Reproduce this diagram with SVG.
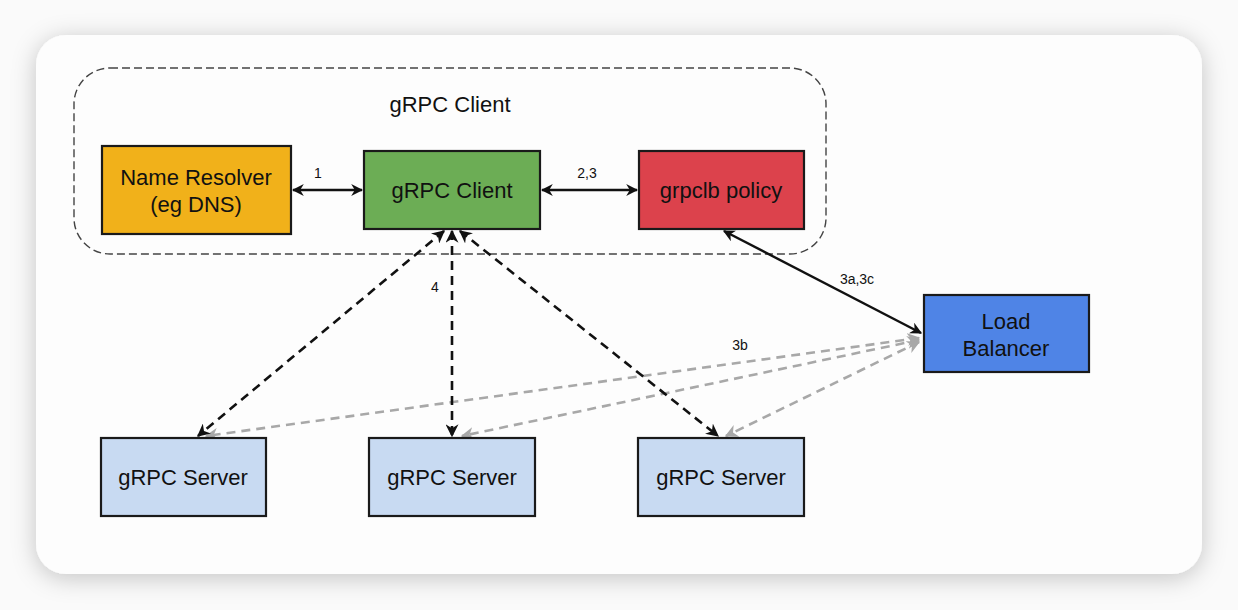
<svg xmlns="http://www.w3.org/2000/svg" width="1238" height="610" viewBox="0 0 1238 610">
<defs>
<filter id="sh" x="-10%" y="-10%" width="120%" height="130%">
<feDropShadow dx="0" dy="4" stdDeviation="12" flood-color="#000" flood-opacity="0.22"/>
</filter>
<marker id="ab" viewBox="0 0 10 10" refX="9" refY="5" markerWidth="5" markerHeight="5" orient="auto-start-reverse" markerUnits="strokeWidth">
<path d="M0,0 L10,5 L0,10 L3,5 z" fill="#111"/>
</marker>
<marker id="abd" viewBox="0 0 10 10" refX="9" refY="5" markerWidth="5" markerHeight="5" orient="auto-start-reverse" markerUnits="strokeWidth">
<path d="M0,0 L10,5 L0,10 L3,5 z" fill="#111"/>
</marker>
<marker id="ag" viewBox="0 0 10 10" refX="9" refY="5" markerWidth="5" markerHeight="5" orient="auto-start-reverse" markerUnits="strokeWidth">
<path d="M0,0 L10,5 L0,10 L3,5 z" fill="#a8a8a8"/>
</marker>
</defs>
<style>
text{font-family:"Liberation Sans",Arial,sans-serif;fill:#111;}
.t{font-size:22px;text-anchor:middle;}
.l{font-size:14px;text-anchor:middle;}
.box{stroke:#1a1a1a;stroke-width:2.2;}
.solid{stroke:#111;stroke-width:2.4;fill:none;}
.bd{stroke:#111;stroke-width:2.6;stroke-dasharray:9 6;fill:none;}
.gd{stroke:#a8a8a8;stroke-width:2.6;stroke-dasharray:9 6;fill:none;}
</style>
<rect x="0" y="0" width="1238" height="610" fill="#fafafa"/>
<rect x="36" y="35" width="1166" height="539" rx="30" ry="30" fill="#fdfdfd" filter="url(#sh)"/>

<g id="client-group">
<rect x="74" y="68" width="752" height="186" rx="36" ry="36" fill="none" stroke="#444" stroke-width="1.4" stroke-dasharray="8 4"/>
<text class="t" x="450" y="112">gRPC Client</text>
</g>

<g id="connectors">
<line class="solid" x1="293" y1="190" x2="362" y2="190" marker-start="url(#ab)" marker-end="url(#ab)"/>
<text class="l" x="318" y="178">1</text>
<line class="solid" x1="542" y1="190" x2="637" y2="190" marker-start="url(#ab)" marker-end="url(#ab)"/>
<text class="l" x="587" y="178">2,3</text>
<line class="solid" x1="724" y1="231" x2="921" y2="333" marker-start="url(#ab)" marker-end="url(#ab)"/>
<text class="l" x="857" y="284">3a,3c</text>

<line class="gd" x1="919" y1="338" x2="206" y2="436" marker-start="url(#ag)" marker-end="url(#ag)"/>
<line class="gd" x1="919" y1="340" x2="462" y2="436" marker-start="url(#ag)" marker-end="url(#ag)"/>
<line class="gd" x1="919" y1="342" x2="726" y2="436" marker-start="url(#ag)" marker-end="url(#ag)"/>
<text class="l" x="740" y="350">3b</text>

<line class="bd" x1="444" y1="231" x2="198" y2="436" marker-start="url(#abd)" marker-end="url(#abd)"/>
<line class="bd" x1="452" y1="231" x2="452" y2="436" marker-start="url(#abd)" marker-end="url(#abd)"/>
<line class="bd" x1="460" y1="231" x2="718" y2="436" marker-start="url(#abd)" marker-end="url(#abd)"/>
<text class="l" x="435" y="292">4</text>
</g>

<g id="name-resolver">
<rect class="box" x="102" y="146" width="189" height="88" fill="#f1b11a"/>
<text class="t" x="196" y="185">Name Resolver</text>
<text class="t" x="196" y="212">(eg DNS)</text>
</g>
<g id="grpc-client">
<rect class="box" x="364" y="151" width="176" height="78" fill="#6cad55"/>
<text class="t" x="452" y="198">gRPC Client</text>
</g>
<g id="grpclb-policy">
<rect class="box" x="639" y="151" width="165" height="78" fill="#dc424c"/>
<text class="t" x="721" y="198">grpclb policy</text>
</g>
<g id="load-balancer">
<rect class="box" x="924" y="295" width="165" height="77" fill="#4f84e6"/>
<text class="t" x="1006" y="329">Load</text>
<text class="t" x="1006" y="356">Balancer</text>
</g>
<g id="server-1">
<rect class="box" x="101" y="438" width="165" height="78" fill="#c8daf2"/>
<text class="t" x="183" y="485">gRPC Server</text>
</g>
<g id="server-2">
<rect class="box" x="369" y="438" width="166" height="78" fill="#c8daf2"/>
<text class="t" x="452" y="485">gRPC Server</text>
</g>
<g id="server-3">
<rect class="box" x="638" y="438" width="166" height="78" fill="#c8daf2"/>
<text class="t" x="721" y="485">gRPC Server</text>
</g>
</svg>
